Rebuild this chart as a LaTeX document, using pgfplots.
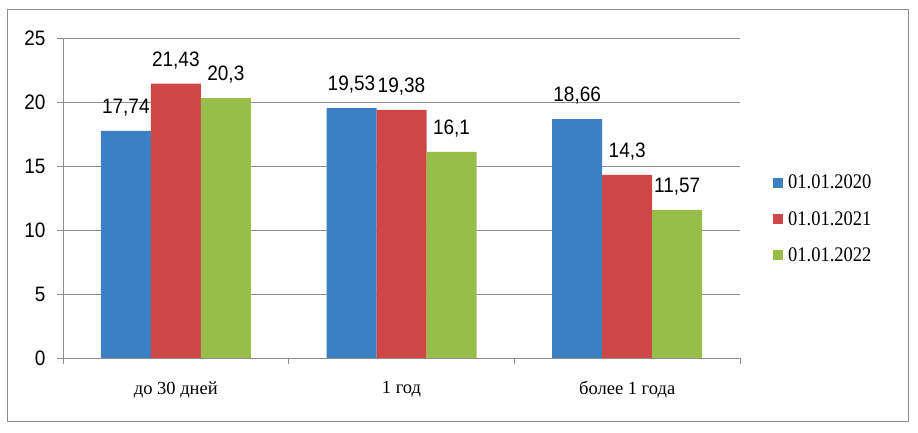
\documentclass[border=0pt]{standalone}
\usepackage{pgfplots}
\pgfplotsset{compat=1.18}
\usepackage{fontspec}
\setmainfont{Liberation Serif}
\newfontfamily\arialfont{Liberation Sans}
\definecolor{cblue}{RGB}{59,128,194}
\definecolor{cred}{RGB}{207,70,72}
\definecolor{cgreen}{RGB}{151,190,72}
\definecolor{cgrid}{RGB}{140,140,140}
\begin{document}
\begin{tikzpicture}[x=1bp,y=1bp]
\useasboundingbox (-63,-75) rectangle (855,358);
\draw[cgrid, line width=1bp] (-55,-64) rectangle (845,348);
\begin{axis}[
    at={(0,0)}, anchor=south west,
    scale only axis,
    width=677bp, height=320bp,
    ymin=0, ymax=25,
    xmin=-0.5, xmax=2.5,
    ybar=0pt, bar width=50bp,
    ytick={0,5,...,25},
    ymajorgrids,
    grid style={cgrid, line width=0.8bp},
    axis x line*=bottom, axis y line*=left,
    axis line style={cgrid, line width=0.8bp},
    tick style={cgrid, line width=0.8bp},
    tick align=outside, major tick length=6bp,
    xtick={-0.5,0.5,1.5,2.5}, xticklabels={},
    extra x ticks={0,1,2},
    extra x tick labels={до 30 дней, 1 год, более 1 года},
    extra x tick style={major tick length=0pt, grid=none,
        xticklabel style={font=\fontsize{18.5bp}{20bp}\selectfont, yshift=-20bp}},
    yticklabel style={font=\arialfont\fontsize{19bp}{21bp}\selectfont, xshift=-8bp},
    yticklabel={\scalebox{1}[1.1]{\pgfmathprintnumber{\tick}}},
    /pgf/number format/assume math mode=true,
    nodes near coords={\scalebox{1}[1.1]{\pgfmathprintnumber{\pgfplotspointmeta}}},
    nodes near coords style={font=\arialfont\fontsize{19bp}{21bp}\selectfont, anchor=south, yshift=11bp,
        /pgf/number format/.cd, use comma, fixed, precision=2},
    legend style={at={(1,0.434)}, anchor=west, xshift=30bp, draw=none,
        font=\fontsize{18.5bp}{21bp}\selectfont, row sep=17bp,
        legend cell align=left,
        nodes={inner xsep=5bp}},
    legend image code/.code={\fill[#1] (0bp,-5bp) rectangle (10bp,5bp);},
]
\addplot[fill=cblue, draw=none] coordinates {(0,17.74) (1,19.53) (2,18.66)};
\addplot[fill=cred, draw=none] coordinates {(0,21.43) (1,19.38) (2,14.3)};
\addplot[fill=cgreen, draw=none] coordinates {(0,20.3) (1,16.1) (2,11.57)};
\legend{\scalebox{1}[1.12]{01.01.2020}, \scalebox{1}[1.12]{01.01.2021}, \scalebox{1}[1.12]{01.01.2022}}
\end{axis}
\end{tikzpicture}
\end{document}
